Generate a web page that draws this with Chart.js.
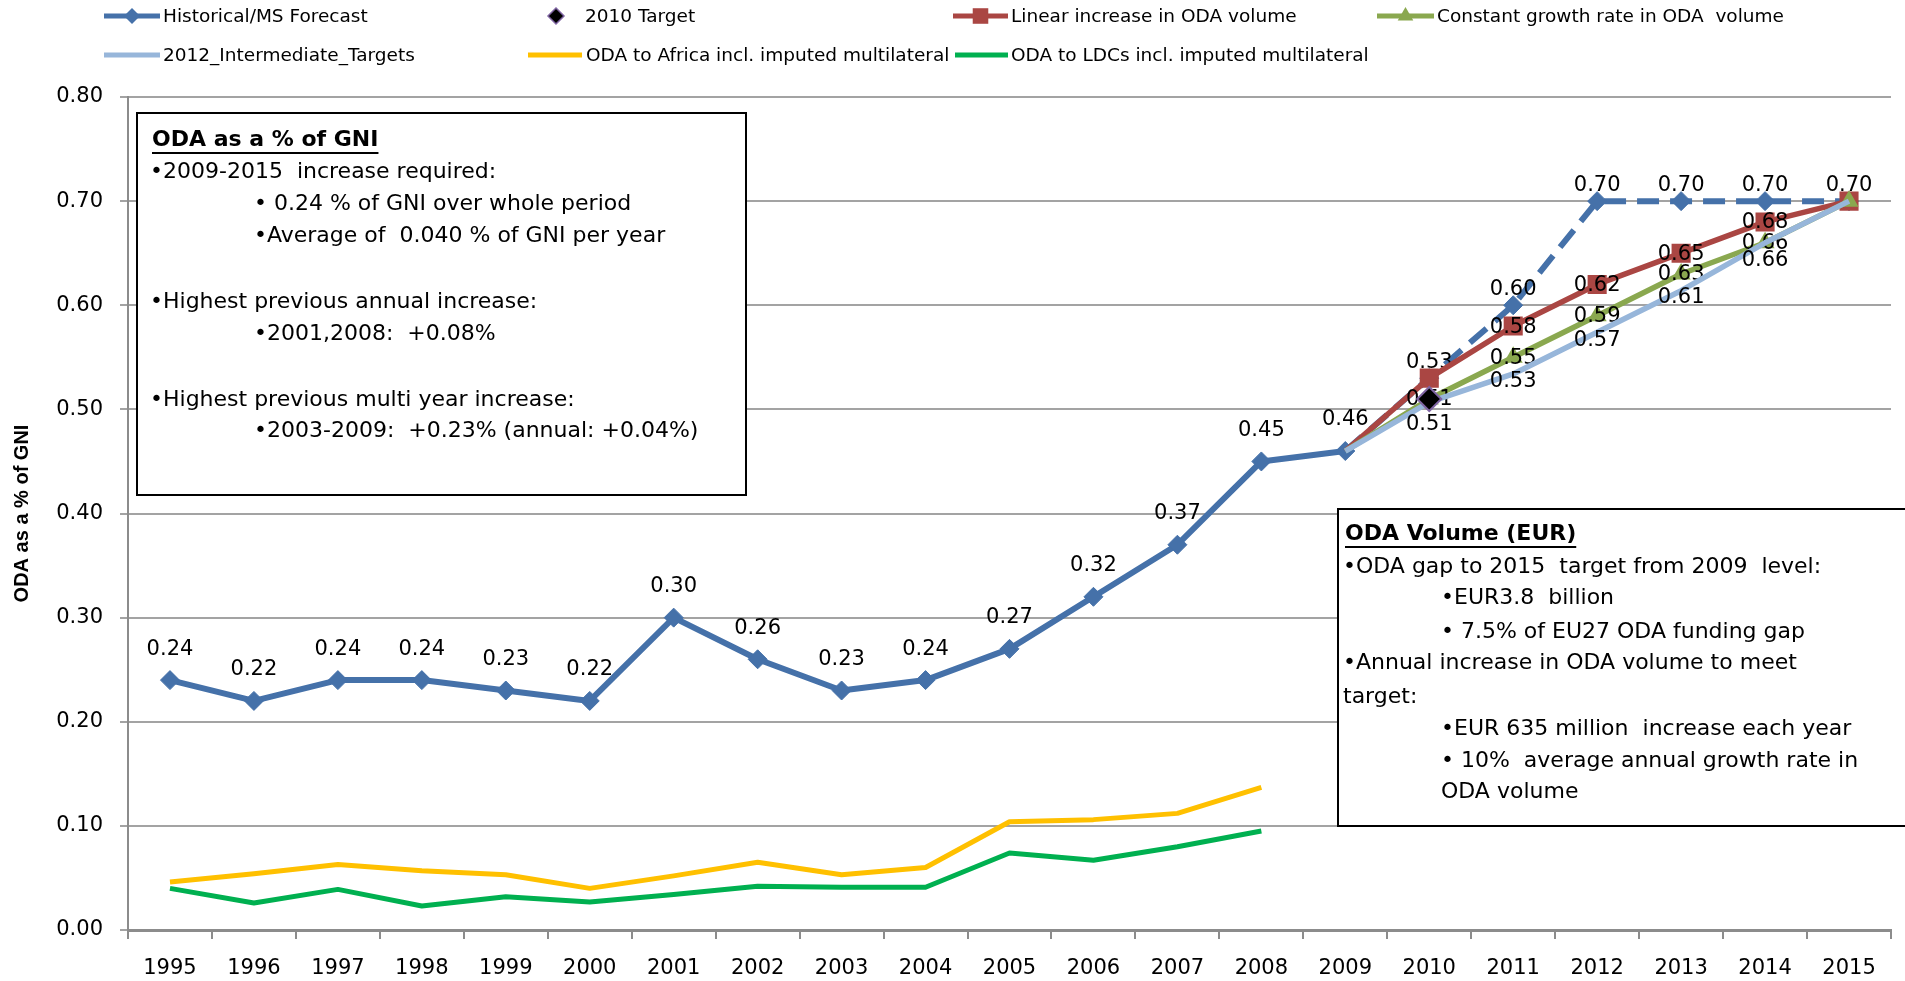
<!DOCTYPE html>
<html>
<head>
<meta charset="utf-8">
<title>ODA as a % of GNI</title>
<script src="https://cdn.jsdelivr.net/npm/chart.js@4.4.1/dist/chart.umd.min.js"></script>
<style>
  html, body { margin: 0; padding: 0; background: #ffffff; overflow: hidden; }
  canvas { display: block; }
</style>
</head>
<body>
<canvas id="odaChart" width="1905" height="981"></canvas>
<script>
// ---- Data ----
const years = ['1995','1996','1997','1998','1999','2000','2001','2002','2003','2004',
               '2005','2006','2007','2008','2009','2010','2011','2012','2013','2014','2015'];

// ODA as % of GNI: history to 2009, member-state forecast afterwards
const historicalForecast = [0.24, 0.22, 0.24, 0.24, 0.23, 0.22, 0.30, 0.26, 0.23, 0.24,
                            0.27, 0.32, 0.37, 0.45, 0.46, 0.53, 0.60, 0.70, 0.70, 0.70, 0.70];
const target2010 = [null, null, null, null, null, null, null, null, null, null,
                    null, null, null, null, null, 0.51, null, null, null, null, null];
const linearIncrease = [null, null, null, null, null, null, null, null, null, null,
                        null, null, null, null, 0.46, 0.53, 0.58, 0.62, 0.65, 0.68, 0.70];
const constantGrowth = [null, null, null, null, null, null, null, null, null, null,
                        null, null, null, null, 0.46, 0.51, 0.55, 0.59, 0.63, 0.66, 0.70];
const intermediateTargets = [null, null, null, null, null, null, null, null, null, null,
                             null, null, null, null, 0.46, 0.507, 0.534, 0.574, 0.614, 0.66, 0.70];
const odaAfrica = [0.046, 0.054, 0.063, 0.057, 0.053, 0.040, 0.052, 0.065, 0.053, 0.060,
                   0.104, 0.106, 0.112, 0.137];
const odaLDCs = [0.040, 0.026, 0.039, 0.023, 0.032, 0.027, 0.034, 0.042, 0.041, 0.041,
                 0.074, 0.067, 0.080, 0.095];

const yTickValues = [0, 0.1, 0.2, 0.3, 0.4, 0.5, 0.6, 0.7, 0.8];

// ---- Annotation texts ----
const gniBoxTitle = 'ODA as a % of GNI';
const gniBoxLines = [
  '\u20222009-2015  increase required:',
  '\u2022 0.24 % of GNI over whole period',
  '\u2022Average of  0.040 % of GNI per year',
  '\u2022Highest previous annual increase:',
  '\u20222001,2008:  +0.08%',
  '\u2022Highest previous multi year increase:',
  '\u20222003-2009:  +0.23% (annual: +0.04%)'
];
const volumeBoxTitle = 'ODA Volume (EUR)';
const volumeBoxLines = [
  '\u2022ODA gap to 2015  target from 2009  level:',
  '\u2022EUR3.8  billion',
  '\u2022 7.5% of EU27 ODA funding gap',
  '\u2022Annual increase in ODA volume to meet',
  'target:',
  '\u2022EUR 635 million  increase each year',
  '\u2022 10%  average annual growth rate in',
  'ODA volume'
];

// ---- Styling ----
const FONT = "'DejaVu Sans', 'Liberation Sans', sans-serif";
const C_HIST = '#4571a9';
const C_LINEAR = '#aa4643';
const C_CONST = '#8aa84f';
const C_INTER = '#97b6da';
const C_AFRICA = '#ffc000';
const C_LDC = '#00b050';
const C_GRID = '#a3a3a3';
const C_AXIS = '#8c8c8c';

// value labels drawn right after each dataset, so later marks may cover them
const valueLabelPlugin = {
  id: 'valueLabels',
  afterDatasetDraw(chart, args) {
    const ds = chart.data.datasets[args.index];
    if (!ds.valueLabels) return;
    const ctx = chart.ctx;
    ctx.save();
    ctx.font = '21px ' + FONT;
    ctx.fillStyle = '#000';
    ctx.textAlign = 'center';
    ctx.textBaseline = 'middle';
    ds.valueLabels.forEach(spec => {
      for (let i = spec.from; i <= spec.to; i++) {
        const v = ds.data[i];
        const el = args.meta.data[i];
        if (v == null || !el) continue;
        const dy = Array.isArray(spec.dy) ? spec.dy[i - spec.from] : spec.dy;
        ctx.fillText(v.toFixed(2), el.x, el.y + dy);
      }
    });
    ctx.restore();
  }
};

function drawMarker(ctx, style, x, y, r, fill, stroke, bw) {
  ctx.save();
  ctx.beginPath();
  if (style === 'rectRot') {
    ctx.moveTo(x, y - r); ctx.lineTo(x + r, y); ctx.lineTo(x, y + r); ctx.lineTo(x - r, y);
  } else if (style === 'rect') {
    const s = r * Math.SQRT1_2;
    ctx.rect(x - s, y - s, 2 * s, 2 * s);
  } else if (style === 'triangle') {
    ctx.moveTo(x, y - r);
    ctx.lineTo(x + r * Math.sin(2 * Math.PI / 3), y - r * Math.cos(2 * Math.PI / 3));
    ctx.lineTo(x + r * Math.sin(4 * Math.PI / 3), y - r * Math.cos(4 * Math.PI / 3));
  }
  ctx.closePath();
  ctx.fillStyle = fill;
  ctx.fill();
  if (bw) { ctx.lineWidth = bw; ctx.strokeStyle = stroke; ctx.stroke(); }
  ctx.restore();
}

// legend entries: dataset index, row, line start/end, text start
const legendLayout = [
  { ds: 0, row: 0, x0: 104, x1: 160, tx: 163 },
  { ds: 1, row: 0, x0: 556, x1: 556, tx: 585, markerOnly: true },
  { ds: 2, row: 0, x0: 953, x1: 1008, tx: 1011 },
  { ds: 3, row: 0, x0: 1377, x1: 1434, tx: 1437 },
  { ds: 4, row: 1, x0: 104, x1: 160, tx: 163 },
  { ds: 5, row: 1, x0: 528, x1: 582, tx: 586 },
  { ds: 6, row: 1, x0: 955, x1: 1008, tx: 1011 }
];
const legendRows = [16, 55];

function drawTextBox(ctx, box) {
  ctx.save();
  ctx.fillStyle = '#fff';
  ctx.fillRect(box.x, box.y, box.w, box.h);
  ctx.lineWidth = 2;
  ctx.strokeStyle = '#000';
  ctx.strokeRect(box.x, box.y, box.w, box.h);
  ctx.textBaseline = 'middle';
  ctx.textAlign = 'left';
  ctx.fillStyle = '#000';
  ctx.font = 'bold 22px ' + FONT;
  ctx.fillText(box.title, box.tx, box.titleY);
  const tw = ctx.measureText(box.title).width;
  ctx.fillRect(box.tx, box.titleY + 12, tw, 2);
  ctx.font = '22px ' + FONT;
  box.lines.forEach((t, i) => {
    ctx.fillText(t, box.lineX[i], box.lineY[i]);
  });
  ctx.restore();
}

const overlayPlugin = {
  id: 'overlay',
  afterDraw(chart) {
    const ctx = chart.ctx;
    // legend
    ctx.save();
    ctx.font = '18.5px ' + FONT;
    ctx.textBaseline = 'middle';
    ctx.textAlign = 'left';
    legendLayout.forEach(item => {
      const ds = chart.data.datasets[item.ds];
      const y = legendRows[item.row];
      const mid = (item.x0 + item.x1) / 2;
      if (!item.markerOnly) {
        ctx.save();
        ctx.strokeStyle = ds.borderColor;
        ctx.lineWidth = 5;
        ctx.beginPath();
        ctx.moveTo(item.x0, y);
        ctx.lineTo(item.x1, y);
        ctx.stroke();
        ctx.restore();
      }
      if (ds.legendMarker) {
        const m = ds.legendMarker;
        drawMarker(ctx, m.style, mid, y, m.r, m.fill, m.stroke, m.bw);
      }
      ctx.fillStyle = '#000';
      ctx.fillText(ds.label, item.tx, y + 1);
    });
    ctx.restore();

    drawTextBox(ctx, {
      x: 137, y: 113, w: 609, h: 382,
      title: gniBoxTitle, tx: 152, titleY: 140,
      lines: gniBoxLines,
      lineX: [150, 254, 254, 150, 254, 150, 254],
      lineY: [172, 204, 236, 302, 334, 400, 431]
    });
    drawTextBox(ctx, {
      x: 1338, y: 509, w: 600, h: 317,
      title: volumeBoxTitle, tx: 1345, titleY: 534,
      lines: volumeBoxLines,
      lineX: [1343, 1441, 1441, 1343, 1343, 1441, 1441, 1441],
      lineY: [567, 598, 632, 663, 697, 729, 761, 792]
    });
  }
};

const datasets = [
  {
    label: 'Historical/MS Forecast',
    data: historicalForecast,
    borderColor: C_HIST, backgroundColor: C_HIST,
    borderWidth: 6, tension: 0,
    pointStyle: 'rectRot', pointRadius: 9.5,
    pointBackgroundColor: C_HIST, pointBorderColor: C_HIST, pointBorderWidth: 1,
    segment: { borderDash: c => (c.p0DataIndex >= 14 ? [22, 11] : undefined) },
    order: 4,
    valueLabels: [{ from: 0, to: 14, dy: -31 }, { from: 15, to: 20, dy: -16 }],
    legendMarker: { style: 'rectRot', r: 8, fill: C_HIST }
  },
  {
    label: '2010 Target',
    data: target2010,
    showLine: false,
    borderColor: '#000', backgroundColor: '#000',
    pointStyle: 'rectRot', pointRadius: 12,
    pointBackgroundColor: '#000', pointBorderColor: '#7f64a2', pointBorderWidth: 2,
    order: 0,
    legendMarker: { style: 'rectRot', r: 8, fill: '#000', stroke: '#7f64a2', bw: 1.5 }
  },
  {
    label: 'Linear increase in ODA volume',
    data: linearIncrease,
    borderColor: C_LINEAR, backgroundColor: C_LINEAR,
    borderWidth: 5.5, tension: 0,
    pointStyle: 'rect', pointRadius: c => (c.dataIndex === 14 ? 0 : 13.5),
    pointBackgroundColor: C_LINEAR, pointBorderColor: C_LINEAR, pointBorderWidth: 0,
    order: 3,
    valueLabels: [{ from: 16, to: 19, dy: 1 }],
    legendMarker: { style: 'rect', r: 11, fill: C_LINEAR }
  },
  {
    label: 'Constant growth rate in ODA  volume',
    data: constantGrowth,
    borderColor: C_CONST, backgroundColor: C_CONST,
    borderWidth: 5.5, tension: 0,
    pointStyle: 'triangle', pointRadius: c => (c.dataIndex === 14 ? 0 : 11),
    pointBackgroundColor: C_CONST, pointBorderColor: C_CONST, pointBorderWidth: 0,
    order: 2,
    valueLabels: [{ from: 15, to: 19, dy: 1 }],
    legendMarker: { style: 'triangle', r: 9, fill: C_CONST }
  },
  {
    label: '2012_Intermediate_Targets',
    data: intermediateTargets,
    borderColor: C_INTER, backgroundColor: C_INTER,
    borderWidth: 5.5, tension: 0, pointRadius: 0,
    order: 1,
    valueLabels: [{ from: 15, to: 19, dy: [22, 8, 8, 7, 18] }]
  },
  {
    label: 'ODA to Africa incl. imputed multilateral',
    data: odaAfrica,
    borderColor: C_AFRICA, backgroundColor: C_AFRICA,
    borderWidth: 5, tension: 0, pointRadius: 0,
    order: 5
  },
  {
    label: 'ODA to LDCs incl. imputed multilateral',
    data: odaLDCs,
    borderColor: C_LDC, backgroundColor: C_LDC,
    borderWidth: 5, tension: 0, pointRadius: 0,
    order: 6
  }
];

new Chart(document.getElementById('odaChart'), {
  type: 'line',
  data: { labels: years, datasets: datasets },
  options: {
    responsive: false,
    animation: false,
    devicePixelRatio: 1,
    layout: { padding: { top: 97, right: 13, bottom: 0, left: 0 } },
    plugins: { legend: { display: false }, tooltip: { enabled: false } },
    elements: { line: { borderJoinStyle: 'round' } },
    scales: {
      x: {
        type: 'category',
        offset: true,
        grid: { offset: true, drawOnChartArea: false, drawTicks: true, tickLength: 9, color: C_AXIS, lineWidth: 2 },
        border: { display: true, color: C_AXIS, width: 3 },
        ticks: { font: { family: FONT, size: 21 }, color: '#000', padding: 17, maxRotation: 0, autoSkip: false },
        afterFit: s => { s.height = 51; }
      },
      y: {
        min: 0, max: 0.8,
        afterBuildTicks: s => { s.ticks = yTickValues.map(v => ({ value: v })); },
        ticks: { callback: v => Number(v).toFixed(2), font: { family: FONT, size: 21 }, color: '#000', padding: 17 },
        grid: { color: C_GRID, lineWidth: 2, tickLength: 8, drawTicks: true },
        border: { color: C_AXIS, width: 2 },
        title: {
          display: true, text: 'ODA as a % of GNI', color: '#000',
          font: { family: "'Liberation Sans', sans-serif", size: 20, weight: 'bold' },
          padding: { top: 10, bottom: 0 }
        },
        afterFit: s => { s.width = 128; }
      }
    }
  },
  plugins: [valueLabelPlugin, overlayPlugin]
});
</script>
</body>
</html>
